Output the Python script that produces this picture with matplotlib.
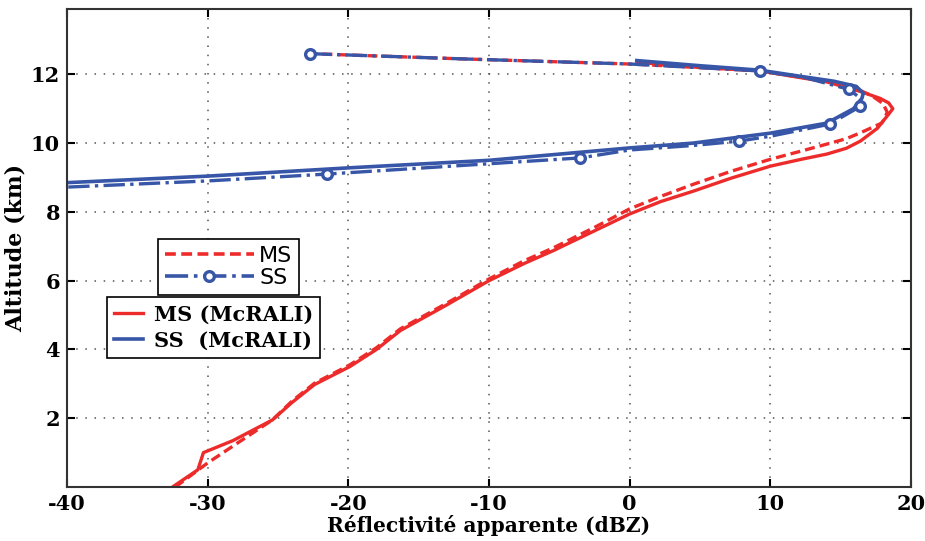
import numpy as np
import matplotlib
matplotlib.use("Agg")
import matplotlib.pyplot as plt
from matplotlib.lines import Line2D

plt.rcParams["axes.unicode_minus"] = False

# --------------------------------
# Data
# --------------------------------
# MS (McRALI), solid red
ms_mc_x = [-32.5, -30.7, -30.3, -28.2, -25.4, -24.0, -22.4, -19.9, -18.0, -16.3, -13.2,
           -10.0, -7.5, -5.45, -2.5, 0.0, 2.2, 4.5, 7.2, 10.0, 12.2, 14.0, 15.4, 16.4,
           17.6, 18.4, 18.7, 18.4, 17.8, 16.4, 14.0, 11.6, 9.25, 5.0, 2.1, 0.5]
ms_mc_y = [0.0, 0.5, 1.0, 1.35, 1.95, 2.46, 2.98, 3.5, 4.0, 4.55, 5.25,
           6.0, 6.5, 6.87, 7.45, 7.94, 8.3, 8.6, 8.98, 9.33, 9.53, 9.68, 9.85, 10.06,
           10.43, 10.84, 11.0, 11.17, 11.3, 11.5, 11.78, 11.94, 12.1, 12.2, 12.28, 12.38]

# MS, dashed red
ms_x = [-32.3, -30.0, -27.8, -25.4, -24.0, -22.4, -19.9, -18.0, -16.3, -13.2, -10.0, -7.5,
        -5.45, -2.5, 0.0, 2.2, 4.5, 7.2, 10.0, 12.2, 14.0, 15.4, 16.4, 17.9, 18.1,
        18.3, 18.0, 17.2, 16.0, 14.0, 11.6, 9.25, 5.0, 0.0, -12.0, -22.7]
ms_y = [0.0, 0.7, 1.3, 1.95, 2.5, 3.02, 3.55, 4.05, 4.6, 5.3, 6.05, 6.58,
        6.95, 7.55, 8.09, 8.45, 8.8, 9.18, 9.53, 9.77, 9.97, 10.13, 10.3, 10.58, 10.7,
        10.9, 11.15, 11.38, 11.6, 11.8, 11.95, 12.1, 12.2, 12.3, 12.45, 12.6]

# SS (McRALI), solid blue
ss_mc_x = [0.5, 5.0, 9.25, 12.0, 14.5, 16.1, 16.6, 16.5, 15.9, 14.0, 10.0, 4.5,
           0.0, -5.0, -10.0, -20.0, -30.0, -40.0]
ss_mc_y = [12.4, 12.25, 12.12, 11.95, 11.8, 11.65, 11.45, 11.3, 11.0, 10.58, 10.29,
           10.0, 9.86, 9.68, 9.5, 9.28, 9.04, 8.85]

# SS, dash-dot blue with circles
ss_x = [-22.7, -12.0, 0.0, 9.25, 12.5, 15.6, 16.4, 16.4, 14.2, 10.0, 7.8, 4.5, 0.0,
        -3.5, -10.0, -21.5, -30.0, -40.0]
ss_y = [12.6, 12.45, 12.3, 12.1, 11.9, 11.56, 11.3, 11.07, 10.55, 10.2, 10.06, 9.93,
        9.8, 9.57, 9.4, 9.1, 8.9, 8.72]
ss_marks = [0, 3, 5, 7, 8, 10, 13, 15]

red = "#ee2b2b"
blue = "#3856a8"

fig = plt.figure(figsize=(9.25, 5.41), dpi=100)
ax = fig.add_axes([0.0724, 0.0998, 0.9126, 0.8836])

ax.plot(ms_mc_x, ms_mc_y, "-", color=red, lw=2.4)
ax.plot(ms_x, ms_y, "--", color=red, lw=2.4, dashes=(3, 1.5))
ax.plot(ss_mc_x, ss_mc_y, "-", color=blue, lw=2.6)
ax.plot(ss_x, ss_y, "-.", color=blue, lw=2.4, marker="o", markersize=7,
        markerfacecolor="white", markeredgecolor=blue, markeredgewidth=2.4,
        markevery=ss_marks)

ax.set_xlim(-40, 20)
ax.set_ylim(0, 13.9)
ax.set_xticks(np.arange(-40, 21, 10))
ax.set_yticks(np.arange(2, 13, 2))
ax.grid(True, color="#555555", linestyle=(0, (1, 5)), linewidth=1.1)
ax.tick_params(direction="in", top=True, right=True, length=6, width=1.5, pad=5)
for lab in ax.get_xticklabels() + ax.get_yticklabels():
    lab.set_fontfamily("DejaVu Serif")
    lab.set_fontweight("bold")
    lab.set_fontsize(15)
for s in ax.spines.values():
    s.set_linewidth(1.5)
    s.set_color("#333333")

ax.set_xlabel("Réflectivité apparente (dBZ)", fontsize=14.5, labelpad=1,
              family="DejaVu Serif", weight="bold")
ax.set_ylabel("Altitude (km)", fontsize=16, labelpad=3,
              family="DejaVu Serif", weight="bold")

# legends
h1 = [Line2D([], [], color=red, lw=2.6, linestyle="--", dashes=(3, 1.5)),
      Line2D([], [], color=blue, lw=2.6, linestyle="-.", marker="o", markersize=7,
             markerfacecolor="white", markeredgecolor=blue, markeredgewidth=2.4)]
leg1 = ax.legend(h1, ["MS", "SS"], loc="upper left", bbox_to_anchor=(0.108, 0.519),
                 borderaxespad=0, prop={"family": "DejaVu Sans", "size": 16},
                 handlelength=4.0, handletextpad=0.25, borderpad=0.3, labelspacing=0.12,
                 frameon=True, fancybox=False, edgecolor="black", framealpha=1)
leg1.get_frame().set_linewidth(1.2)
ax.add_artist(leg1)

h2 = [Line2D([], [], color=red, lw=2.4), Line2D([], [], color=blue, lw=2.6)]
leg2 = ax.legend(h2, ["MS (McRALI)", "SS  (McRALI)"], loc="upper left",
                 bbox_to_anchor=(0.047, 0.397), borderaxespad=0,
                 prop={"family": "DejaVu Serif", "weight": "bold", "size": 15},
                 handlelength=1.4, handletextpad=0.5, borderpad=0.35, labelspacing=0.3,
                 frameon=True, fancybox=False, edgecolor="black", framealpha=1)
leg2.get_frame().set_linewidth(1.2)

fig.savefig("out.png", dpi=100)
